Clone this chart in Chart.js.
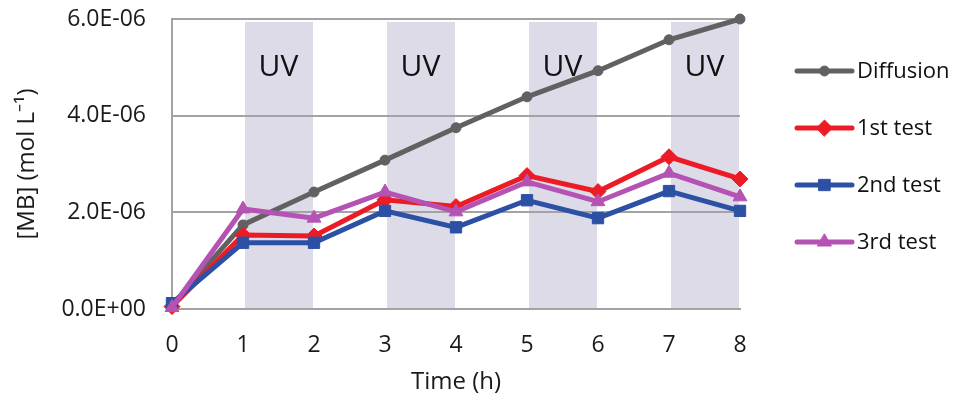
<!DOCTYPE html>
<html>
<head>
<meta charset="utf-8">
<title>MB concentration vs time</title>
<script src="https://cdn.jsdelivr.net/npm/chart.js@4/dist/chart.umd.min.js"></script>
<style>
  html, body { margin: 0; padding: 0; background: #fff; }
  #mbChart { display: block; }
</style>
</head>
<body>
<canvas id="mbChart" width="955" height="401"></canvas>
<script>
// time points (h)
const timeHours = [0, 1, 2, 3, 4, 5, 6, 7, 8];

// [MB] in mol/L
const diffusion = [0.08e-6, 1.74e-6, 2.42e-6, 3.08e-6, 3.75e-6, 4.39e-6, 4.93e-6, 5.57e-6, 6.0e-6];
const test1 = [0.05e-6, 1.53e-6, 1.51e-6, 2.26e-6, 2.12e-6, 2.76e-6, 2.43e-6, 3.15e-6, 2.69e-6];
const test2 = [0.12e-6, 1.37e-6, 1.37e-6, 2.03e-6, 1.69e-6, 2.25e-6, 1.88e-6, 2.44e-6, 2.03e-6];
const test3 = [0.03e-6, 2.07e-6, 1.88e-6, 2.42e-6, 2.01e-6, 2.63e-6, 2.22e-6, 2.81e-6, 2.32e-6];

const seriesNames = ['Diffusion', '1st test', '2nd test', '3rd test'];

// UV irradiation periods (h)
const uvPeriods = [[1, 2], [3, 4], [5, 6], [7, 8]];
const uvLabel = 'UV';

const yTicks = [0, 2e-6, 4e-6, 6e-6];

const FONT = "'Open Sans', sans-serif";
Chart.defaults.font.family = FONT;
Chart.defaults.color = '#1a1a1a';

function toPoints(values) {
  return values.map((v, i) => ({ x: timeHours[i], y: v }));
}

// Excel style "6.0E-06"
function sciLabel(value) {
  const parts = Number(value).toExponential(1).split('e');
  const exp = parts[1];
  const sign = exp[0] === '-' ? '-' : '+';
  const digits = exp.replace(/^[+-]/, '').padStart(2, '0');
  return parts[0] + 'E' + sign + digits;
}

// light lavender bands for UV periods, drawn under grid and lines
const uvBands = {
  id: 'uvBands',
  beforeDraw(chart) {
    const { ctx, chartArea, scales } = chart;
    ctx.save();
    ctx.fillStyle = '#dddbe8';
    uvPeriods.forEach(([a, b]) => {
      const x0 = scales.x.getPixelForValue(a);
      const x1 = scales.x.getPixelForValue(b);
      ctx.fillRect(x0 + 2, chartArea.top + 3, x1 - x0 - 3, chartArea.bottom - chartArea.top - 3);
    });
    ctx.fillStyle = '#111';
    ctx.font = '30px ' + FONT;
    ctx.textAlign = 'center';
    ctx.textBaseline = 'middle';
    uvPeriods.forEach(([a, b]) => {
      const xc = scales.x.getPixelForValue((a + b) / 2);
      ctx.fillText(uvLabel, xc, scales.y.getPixelForValue(5.0e-6));
    });
    ctx.restore();
  }
};

// legend with line + marker like the original
const sideLegend = {
  id: 'sideLegend',
  afterDraw(chart) {
    const { ctx, chartArea } = chart;
    const x0 = chartArea.right + 57;
    const x1 = x0 + 55;
    ctx.save();
    chart.data.datasets.forEach((ds, i) => {
      const y = 71 + i * 57;
      ctx.strokeStyle = ds.borderColor;
      ctx.lineWidth = 5;
      ctx.lineCap = 'round';
      ctx.beginPath();
      ctx.moveTo(x0, y);
      ctx.lineTo(x1, y);
      ctx.stroke();
      ctx.fillStyle = ds.borderColor;
      ctx.lineWidth = 1;
      if (Chart.helpers && Chart.helpers.drawPoint) {
        Chart.helpers.drawPoint(ctx, {
          pointStyle: ds.pointStyle,
          radius: ds.pointRadius,
          rotation: 0,
          borderWidth: 1
        }, (x0 + x1) / 2, y);
      }
      ctx.fillStyle = '#111';
      ctx.font = '22px ' + FONT;
      ctx.textAlign = 'left';
      ctx.textBaseline = 'middle';
      ctx.fillText(ds.label, x1 + 5, y + 1);
    });
    ctx.restore();
  }
};

function makeSeries(label, values, color, style, radius, order) {
  return {
    label: label,
    data: toPoints(values),
    borderColor: color,
    backgroundColor: color,
    borderWidth: 5,
    pointStyle: style,
    pointRadius: radius,
    pointBorderWidth: 1,
    tension: 0,
    clip: false,
    order: order
  };
}

const ctx = document.getElementById('mbChart').getContext('2d');
new Chart(ctx, {
  type: 'line',
  data: {
    datasets: [
      makeSeries(seriesNames[0], diffusion, '#616161', 'circle', 5, 4),
      makeSeries(seriesNames[1], test1, '#ec1c26', 'rectRot', 8, 3),
      makeSeries(seriesNames[2], test2, '#2c50a4', 'rect', 8, 2),
      makeSeries(seriesNames[3], test3, '#b453b4', 'triangle', 8, 1)
    ]
  },
  options: {
    responsive: false,
    animation: false,
    devicePixelRatio: 1,
    layout: { padding: { top: 19, right: 215, left: 0, bottom: 0 } },
    plugins: {
      legend: { display: false },
      tooltip: { enabled: false }
    },
    scales: {
      x: {
        type: 'linear',
        min: 0,
        max: 8,
        afterFit: (scale) => {
          scale.height = 92;
          scale.paddingLeft = 0;
          scale.paddingRight = 0;
        },
        ticks: {
          stepSize: 1,
          padding: 23,
          font: { size: 23 },
          color: '#1a1a1a'
        },
        grid: { display: false, drawTicks: false },
        border: { display: true, color: '#a3a3a3', width: 2 },
        title: {
          display: true,
          text: 'Time (h)',
          font: { size: 24 },
          color: '#1a1a1a',
          padding: { top: 0, bottom: 4 }
        }
      },
      y: {
        min: 0,
        max: 6e-6,
        afterFit: (scale) => {
          scale.width = 172;
          scale.paddingTop = 0;
          scale.paddingBottom = 0;
        },
        afterBuildTicks: (scale) => {
          scale.ticks = yTicks.map(v => ({ value: v }));
        },
        ticks: {
          padding: 26,
          font: { size: 23 },
          color: '#1a1a1a',
          callback: (value) => sciLabel(value)
        },
        grid: { color: '#a3a3a3', lineWidth: 2, drawTicks: false },
        border: { display: true, color: '#a3a3a3', width: 2 },
        title: {
          display: true,
          text: '[MB] (mol L\u207B\u00B9)',
          font: { size: 24 },
          color: '#1a1a1a',
          padding: { top: 13, bottom: 0 }
        }
      }
    }
  },
  plugins: [uvBands, sideLegend]
});
</script>
</body>
</html>
